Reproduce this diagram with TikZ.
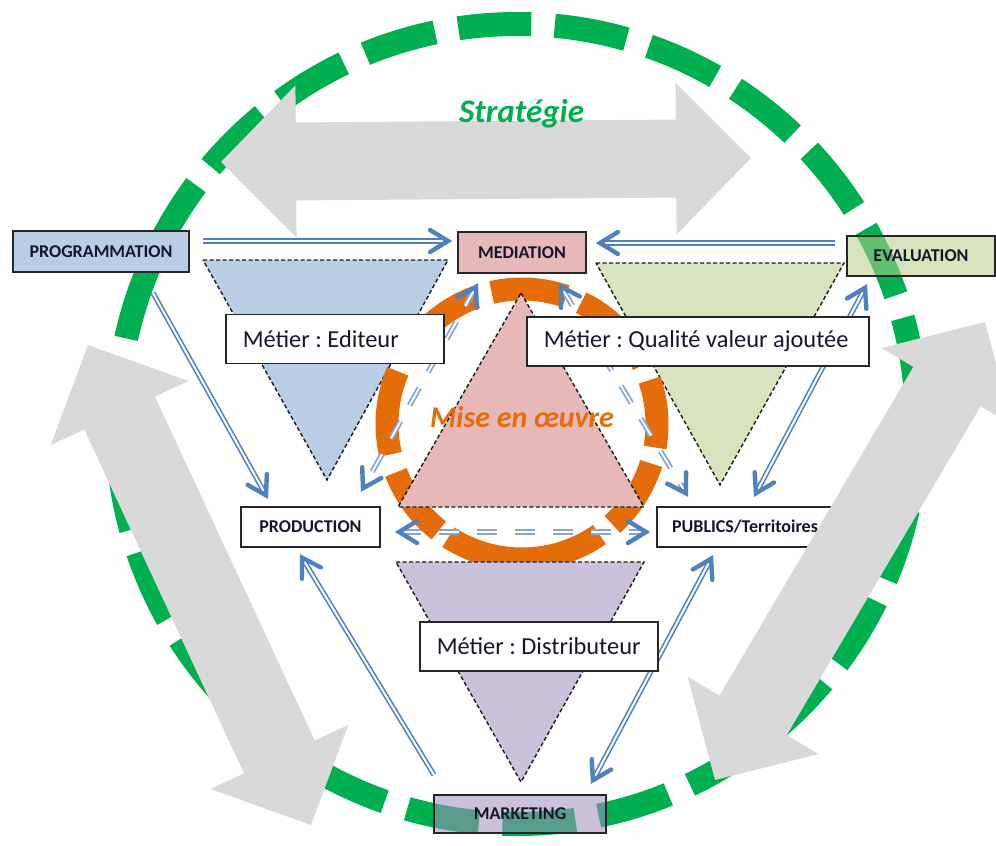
\documentclass[tikz,border=0pt]{standalone}
\usepackage{fontspec}
\setmainfont{Carlito}
\usetikzlibrary{calc}
\definecolor{cgreen}{HTML}{00B050}
\definecolor{corange}{HTML}{E46C0A}
\definecolor{cgrey}{HTML}{D9D9D9}
\definecolor{cblue}{HTML}{4F81BD}
\definecolor{cbluelight}{HTML}{86A5D3}
\definecolor{fblue}{HTML}{B9CDE5}
\definecolor{fgreen}{HTML}{D7E4BD}
\definecolor{fpink}{HTML}{E6B9B8}
\definecolor{fpurple}{HTML}{CCC1DA}
\definecolor{fgreenT}{RGB}{182,206,135}
\definecolor{fpurpleT}{RGB}{162,142,188}
\definecolor{txt}{HTML}{16162A}
\tikzset{
  stratring/.style={draw=cgreen, line width=24pt, dash pattern=on 73pt off 23.65pt, dash phase=10pt},
  ring/.style={draw=corange, line width=23pt},
  tri/.style={draw=black!90, line width=1.4pt, dash pattern=on 4pt off 2.5pt},
  lbl/.style={draw=black!85, line width=1.6pt, inner sep=0pt, font=\fontsize{18}{21}\selectfont\bfseries, text=txt},
  metier/.style={draw=black!85, line width=1.5pt, fill=white, minimum height=49pt, inner xsep=17pt, inner ysep=0pt, font=\fontsize{24.4}{28}\selectfont, text=txt, anchor=west},
  garrow/.style={fill=cgrey},
  conn/.style={draw=cblue, line width=1.6pt, double=white, double distance=2pt},
  connlight/.style={draw=cbluelight, line width=1.8pt, double=white, double distance=1.8pt, dash pattern=on 20pt off 18pt},
  headline/.style={draw=cblue, line width=4.4pt, line cap=round, line join=miter}
}
\newcommand\grayarrow[2]{%
  \fill[garrow] (#1) -- ($(#1)!75pt!(#2)!76pt!90:(#2)$) -- ($(#1)!75pt!(#2)!39pt!90:(#2)$)
   -- ($(#2)!75pt!(#1)!39pt!-90:(#1)$) -- ($(#2)!75pt!(#1)!76pt!-90:(#1)$) -- (#2)
   -- ($(#2)!75pt!(#1)!76pt!90:(#1)$) -- ($(#2)!75pt!(#1)!39pt!90:(#1)$)
   -- ($(#1)!75pt!(#2)!39pt!-90:(#2)$) -- ($(#1)!75pt!(#2)!76pt!-90:(#2)$) -- cycle;}
% open V arrow head at #2, for a line coming from #1
\newcommand\bluehead[2]{\draw[headline] ($(#2)!20pt!(#1)!11pt!90:(#1)$) -- ($(#2)!2pt!(#1)$) -- ($(#2)!20pt!(#1)!11pt!-90:(#1)$);}
\begin{document}
\begin{tikzpicture}[x=1pt,y=-1pt]
\frenchspacing
\useasboundingbox (0,0) rectangle (996,846);
\clip (0,0) rectangle (996,846);

% outer green dashed ring
\draw[stratring] (517,424) circle[radius=400];

% blue and green triangles
\path[tri, fill=fblue] (203,260) -- (448,260) -- (327,480) -- cycle;
\path[tri, fill=fgreen] (596,263) -- (844,263) -- (720,485) -- cycle;

% orange dashed ring
\foreach \a/\b in {71/103,110/149,157/193,201/232,237/305,312/343,350/379,26/64}
  \draw[ring] ($(522,424)+(-\a:135)$) arc[start angle=-\a, end angle=-\b, radius=135];

% pink and purple triangles
\path[tri, fill=fpink] (521,293) -- (644,507) -- (398,507) -- cycle;
\path[tri, fill=fpurple] (396,562) -- (644,562) -- (521,782) -- cycle;

% labelled boxes
\node[lbl, fill=fblue, minimum width=176pt, minimum height=41pt] (prog) at (101,251.5) {PROGRAMMATION};
\node[lbl, fill=fpink, minimum width=128pt, minimum height=41pt] (med) at (522,252.5) {MEDIATION};
\node[lbl, fill=fgreenT, fill opacity=0.55, text opacity=1, minimum width=148pt, minimum height=40pt] (eval) at (921,256) {EVALUATION};
\node[lbl, fill=white, minimum width=139pt, minimum height=40pt] (prod) at (310.5,527) {PRODUCTION};
\node[lbl, fill=white, minimum width=176pt, minimum height=40pt] (pub) at (745,527) {PUBLICS/Territoires};
\node[lbl, fill=fpurpleT, fill opacity=0.55, text opacity=1, minimum width=172pt, minimum height=38pt] (mark) at (520,814) {MARKETING};

% grey double arrows
\coordinate (gTa) at (221,162); \coordinate (gTb) at (751,158);
\coordinate (gLa) at (88,345);  \coordinate (gLb) at (311,825);
\coordinate (gRa) at (985,322); \coordinate (gRb) at (715,780);
\grayarrow{gTa}{gTb}
\grayarrow{gLa}{gLb}
\grayarrow{gRa}{gRb}

% solid blue connectors
\coordinate (c1a) at (203,241); \coordinate (c1b) at (450,241);
\coordinate (c2a) at (835,243); \coordinate (c2b) at (598,243);
\coordinate (c3a) at (153,293); \coordinate (c3b) at (267,497);
\coordinate (c4a) at (434,775); \coordinate (c4b) at (301,556);
\coordinate (c5a) at (592,782); \coordinate (c5b) at (712,557);
\coordinate (c6a) at (866,286); \coordinate (c6b) at (755,495);
\foreach \p/\q in {c1a/c1b,c2a/c2b,c3a/c3b,c4a/c4b}{
  \draw[conn, shorten >=3pt] (\p) -- (\q);
  \bluehead{\p}{\q}
}
\foreach \p/\q in {c5a/c5b,c6a/c6b}{
  \draw[conn, shorten >=3pt, shorten <=3pt] (\p) -- (\q);
  \bluehead{\p}{\q}
  \bluehead{\q}{\p}
}

% dashed blue connectors
\coordinate (d1a) at (397,532); \coordinate (d1b) at (648,532);
\coordinate (d2a) at (477,285); \coordinate (d2b) at (362,490);
\coordinate (d3a) at (560,285); \coordinate (d3b) at (687,495);
\foreach \p/\q in {d1a/d1b,d2a/d2b,d3a/d3b}{
  \draw[connlight, shorten <=4pt, shorten >=4pt] (\p) -- (\q);
  \bluehead{\p}{\q}
  \bluehead{\q}{\p}
}

% metier boxes
\node[metier] (edit) at (225,339) {\makebox[184pt][l]{Métier : Editeur}};
\node[metier] (qual) at (526,341.5) {\makebox[308pt][l]{Métier : Qualité valeur ajoutée}};
\node[metier] (dist) at (419,646.5) {\makebox[204pt][l]{Métier : Distributeur}};

% titles
\node[anchor=base, text=cgreen, font=\fontsize{33}{38}\selectfont\bfseries\itshape] (strat) at (521.5,122) {Stratégie};
\node[anchor=base, text=corange, font=\fontsize{30}{35}\selectfont\bfseries\itshape] (mise) at (522,427) {Mise en œuvre};
\end{tikzpicture}
\end{document}
